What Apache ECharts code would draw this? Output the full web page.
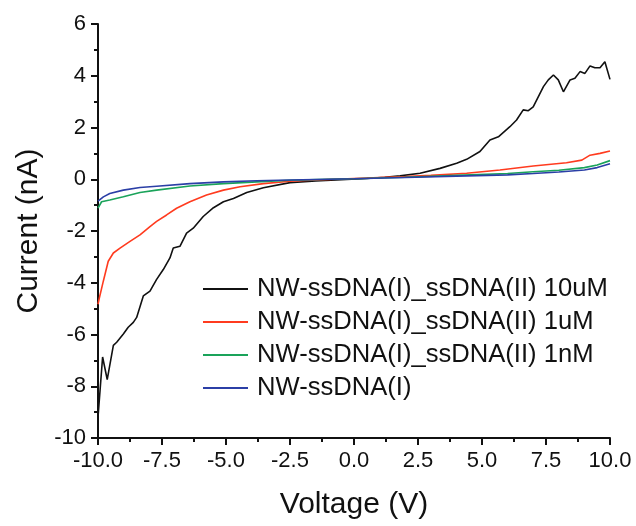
<!DOCTYPE html>
<html>
<head>
<meta charset="utf-8">
<style>html,body{margin:0;padding:0;background:#fff}#c{width:636px;height:526px}</style>
<script src="https://cdn.jsdelivr.net/npm/echarts@6/dist/echarts.min.js"></script>
</head>
<body>
<div id="c"></div>
<script>
const seriesNames = ['NW-ssDNA(I)_ssDNA(II) 10uM','NW-ssDNA(I)_ssDNA(II) 1uM','NW-ssDNA(I)_ssDNA(II) 1nM','NW-ssDNA(I)'];

const v10uM = [-10,-9.82,-9.64,-9.40,-9.27,-9.01,-8.82,-8.62,-8.49,-8.23,-7.97,-7.71,-7.45,-7.19,-7.06,-6.80,-6.54,-6.28,-5.89,-5.49,-5.10,-4.71,-4.19,-3.54,-2.50,-1.5,-0.5,0.5,1.2,1.8,2.58,3.36,4.01,4.40,4.92,5.31,5.64,6.09,6.35,6.61,6.81,7.00,7.40,7.59,7.79,7.98,8.18,8.44,8.63,8.83,9.02,9.22,9.41,9.61,9.80,10.0];
const i10uM = [-9.2,-6.87,-7.74,-6.42,-6.30,-5.98,-5.72,-5.53,-5.34,-4.51,-4.32,-3.87,-3.49,-3.04,-2.66,-2.59,-2.08,-1.89,-1.44,-1.10,-0.87,-0.74,-0.51,-0.33,-0.13,-0.07,-0.02,0.03,0.08,0.13,0.23,0.42,0.62,0.77,1.07,1.52,1.64,2.03,2.29,2.68,2.65,2.80,3.58,3.84,4.03,3.84,3.38,3.84,3.90,4.16,4.09,4.38,4.31,4.31,4.54,3.86];

const v1uM = [-10,-9.95,-9.79,-9.60,-9.40,-9.14,-8.75,-8.36,-7.97,-7.71,-7.32,-6.93,-6.41,-5.76,-5.10,-4.45,-3.54,-2.50,-1.5,0,1.0,2.0,3.0,4.4,5.7,7.0,8.3,8.9,9.22,9.61,10];
const i1uM = [-4.83,-4.6,-3.93,-3.17,-2.85,-2.66,-2.40,-2.15,-1.83,-1.63,-1.38,-1.12,-0.87,-0.61,-0.42,-0.29,-0.17,-0.08,-0.03,0.03,0.07,0.10,0.15,0.23,0.36,0.51,0.64,0.74,0.93,1.00,1.09];

const v1nM = [-10,-9.95,-9.86,-9.54,-9.01,-8.36,-7.71,-6.41,-5.10,-3.80,-2.50,-1,0,2,4,6,7,8,9,9.5,10];
const i1nM = [-1.12,-1.05,-0.87,-0.80,-0.68,-0.51,-0.42,-0.26,-0.17,-0.10,-0.04,0.0,0.02,0.08,0.15,0.22,0.29,0.35,0.45,0.55,0.72];

const vBase = [-10,-9.95,-9.79,-9.54,-9.01,-8.36,-7.71,-6.41,-5.10,-3.80,-2.50,-1,0,2,4,6,7,8,9,9.5,10];
const iBase = [-0.85,-0.80,-0.68,-0.55,-0.42,-0.32,-0.27,-0.17,-0.10,-0.06,-0.03,0.0,0.02,0.07,0.12,0.17,0.22,0.28,0.36,0.45,0.60];

const colors = ['#111111','#ff3b1f','#1aa35a','#2b3fa6'];
const pairs = (xs, ys) => xs.map((x, k) => [x, ys[k]]);
const allData = [pairs(v10uM,i10uM), pairs(v1uM,i1uM), pairs(v1nM,i1nM), pairs(vBase,iBase)];

const FONT = '"Liberation Sans", Arial, sans-serif';
const chart = echarts.init(document.getElementById('c'), null, {renderer:'canvas'});
chart.setOption({
  animation: false,
  backgroundColor: '#fff',
  grid: {left: 98, right: 26, top: 24, bottom: 88},
  legend: {
    orient: 'vertical', left: 203, top: 276, itemGap: 7, padding: 0,
    itemWidth: 45, itemHeight: 2, icon: 'rect',
    textStyle: {fontFamily: FONT, fontSize: 25.6, color: '#111', lineHeight: 25, padding: [0,0,0,4]},
    data: seriesNames.map((n, k) => ({name: n, itemStyle: {color: colors[k]}}))
  },
  xAxis: {
    type: 'value', min: -10, max: 10, interval: 2.5,
    name: 'Voltage (V)', nameLocation: 'middle', nameGap: 52,
    nameTextStyle: {fontFamily: FONT, fontSize: 30, color: '#111'},
    axisLine: {onZero: false, lineStyle: {color: '#111', width: 2}},
    axisTick: {inside: false, length: 7, lineStyle: {color: '#111', width: 2}},
    minorTick: {show: true, splitNumber: 2, length: 4, lineStyle: {color: '#111', width: 2}},
    splitLine: {show: false},
    axisLabel: {fontFamily: FONT, fontSize: 22, color: '#111', margin: 12, formatter: v => v.toFixed(1)}
  },
  yAxis: {
    type: 'value', min: -10, max: 6, interval: 2,
    name: 'Current (nA)', nameLocation: 'middle', nameGap: 53,
    nameTextStyle: {fontFamily: FONT, fontSize: 30, color: '#111'},
    axisLine: {onZero: false, lineStyle: {color: '#111', width: 2}},
    axisTick: {inside: false, length: 7, lineStyle: {color: '#111', width: 2}},
    minorTick: {show: true, splitNumber: 2, length: 4, lineStyle: {color: '#111', width: 2}},
    splitLine: {show: false},
    axisLabel: {fontFamily: FONT, fontSize: 22, color: '#111', margin: 12}
  },
  series: seriesNames.map((n, k) => ({
    name: n, type: 'line', data: allData[k], showSymbol: false, symbol: 'none',
    lineStyle: {color: colors[k], width: 1.6}, itemStyle: {color: colors[k]}
  }))
});
</script>
</body>
</html>
